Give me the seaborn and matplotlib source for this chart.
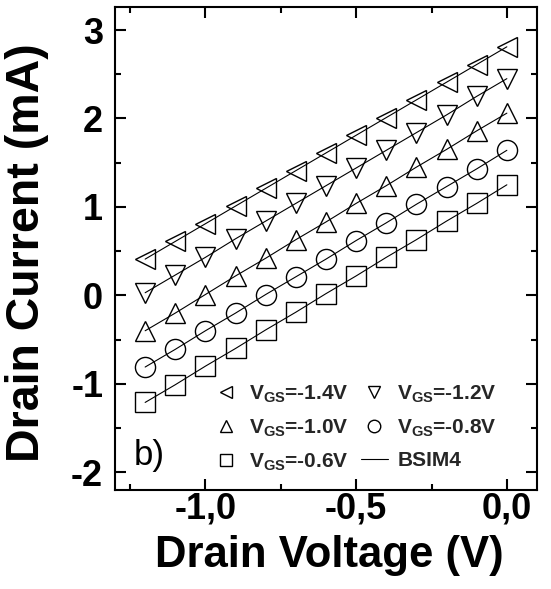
import numpy as np
import pandas as pd
import matplotlib
matplotlib.use("Agg")
import matplotlib.pyplot as plt
from matplotlib.lines import Line2D
from matplotlib.ticker import MultipleLocator, FuncFormatter
import seaborn as sns

# Drain voltage sweep (V)
vd = [-1.2, -1.1, -1.0, -0.9, -0.8, -0.7, -0.6, -0.5, -0.4, -0.3, -0.2, -0.1, 0.0]

# Drain current (mA) for each gate voltage
id_vgs_m14 = [0.41, 0.61, 0.81, 1.01, 1.21, 1.41, 1.61, 1.81, 2.01, 2.21, 2.41, 2.61, 2.81]
id_vgs_m12 = [0.03, 0.23, 0.43, 0.64, 0.84, 1.04, 1.24, 1.44, 1.64, 1.84, 2.04, 2.25, 2.45]
id_vgs_m10 = [-0.40, -0.20, 0.01, 0.22, 0.42, 0.63, 0.83, 1.04, 1.24, 1.45, 1.65, 1.86, 2.06]
id_vgs_m08 = [-0.81, -0.61, -0.40, -0.20, 0.01, 0.21, 0.41, 0.62, 0.82, 1.03, 1.23, 1.43, 1.64]
id_vgs_m06 = [-1.21, -1.01, -0.80, -0.60, -0.39, -0.19, 0.02, 0.22, 0.43, 0.63, 0.84, 1.04, 1.25]

vgs_labels = ["-1.4V", "-1.2V", "-1.0V", "-0.8V", "-0.6V"]
series = [id_vgs_m14, id_vgs_m12, id_vgs_m10, id_vgs_m08, id_vgs_m06]
marker_shapes = ["<", "v", "^", "o", "s"]

x_ticks = [-1.0, -0.5, 0.0]
y_ticks = [-2, -1, 0, 1, 2, 3]

df = pd.DataFrame({
    "Vd": np.tile(vd, len(series)),
    "Id": np.concatenate(series),
    "Vgs": np.repeat(vgs_labels, len(vd)),
})

sns.set_theme(style="ticks")
plt.rcParams["font.family"] = ["Liberation Sans", "DejaVu Sans"]
plt.rcParams["mathtext.fontset"] = "custom"
plt.rcParams["mathtext.bf"] = "Liberation Sans:bold"
plt.rcParams["mathtext.rm"] = "Liberation Sans:bold"
plt.rcParams["mathtext.it"] = "Liberation Sans:bold"

fig = plt.figure(figsize=(5.51, 5.89), dpi=100)
ax = fig.add_axes([115 / 551, 1 - 490 / 589, (537 - 115) / 551, (490 - 7) / 589])

sns.lineplot(
    data=df, x="Vd", y="Id", style="Vgs", style_order=vgs_labels,
    markers=dict(zip(vgs_labels, marker_shapes)), dashes=False,
    color="black", linewidth=0.8, markersize=14.5,
    mfc="none", mec="black", mew=1.0,
    errorbar=None, sort=False, legend=False, ax=ax,
)

ax.set_xlim(-1.30, 0.10)
ax.set_ylim(-2.2, 3.26)
ax.set_xticks(x_ticks)
ax.set_yticks(y_ticks)
ax.xaxis.set_minor_locator(MultipleLocator(0.25))
ax.yaxis.set_minor_locator(MultipleLocator(0.5))
ax.xaxis.set_major_formatter(FuncFormatter(lambda v, p: f"{v:.1f}".replace(".", ",")))
ax.yaxis.set_major_formatter(FuncFormatter(lambda v, p: f"{v:.0f}"))

for s in ax.spines.values():
    s.set_linewidth(1.5)
    s.set_color("black")
ax.tick_params(which="both", direction="in", top=True, right=True, color="black")
ax.tick_params(which="major", length=8, width=1.5)
ax.tick_params(which="minor", length=4.5, width=1.5)
ax.tick_params(axis="x", which="major", pad=1, labelsize=26)
ax.tick_params(axis="y", which="major", pad=8.5, labelsize=26)
for lab in ax.get_xticklabels() + ax.get_yticklabels():
    lab.set_fontweight("bold")
    lab.set_color("black")

ax.set_xlabel("Drain Voltage (V)", fontsize=31.5, fontweight="bold", color="black")
ax.set_ylabel("Drain Current (mA)", fontsize=33.5, fontweight="bold", color="black")
ax.xaxis.set_label_coords(0.507, -0.093)
ax.yaxis.set_label_coords(-0.156, 0.492)

ax.text(-1.238, -1.92, "b)", fontsize=25, color="black", ha="left", va="baseline")

handles = [
    Line2D([], [], ls="none", marker=m, ms=9, mfc="none", mec="black", mew=1.0)
    for m in marker_shapes
]
handles.append(Line2D([], [], color="black", lw=0.8))
labels = [rf"$\mathbf{{V_{{GS}}}}$={v}" for v in vgs_labels] + ["BSIM4"]
# reorder so the two columns read row by row
order = [0, 2, 4, 1, 3, 5]
ax.legend(
    [handles[i] for i in order], [labels[i] for i in order],
    ncol=2, frameon=False, loc="lower right", bbox_to_anchor=(0.905, 0.036),
    prop={"weight": "bold", "size": 15}, handlelength=1.3, handletextpad=0.45,
    columnspacing=0.6, labelspacing=0.6, borderaxespad=0, borderpad=0,
)

fig.savefig("out.png", dpi=100)
